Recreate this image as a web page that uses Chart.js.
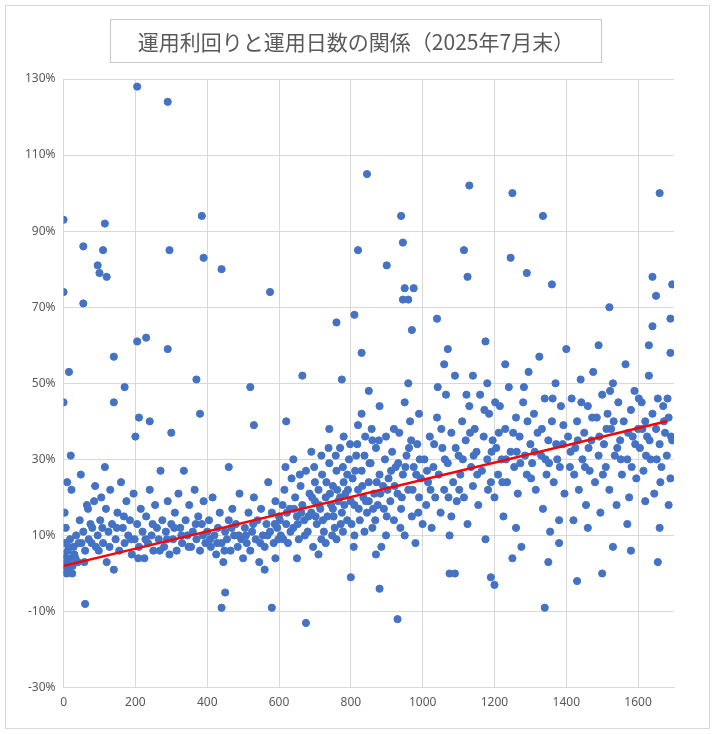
<!DOCTYPE html>
<html><head><meta charset="utf-8">
<script src="https://cdn.jsdelivr.net/npm/chart.js@4/dist/chart.umd.min.js"></script>
<style>
body{margin:0;background:#fff;font-family:"Noto Sans CJK JP",sans-serif}
#wrap{position:absolute;left:0;top:0;width:716px;height:734px}
#frame{position:absolute;left:5px;top:5px;width:703px;height:722px;border:1px solid #d9d9d9}
#title{position:absolute;left:110px;top:19px;width:490px;height:42px;border:1px solid #c8c8c8;font-size:21px;color:#595959;text-align:center;line-height:42px}
canvas{position:absolute;left:0;top:0}
</style></head><body>
<div id="wrap"><div id="frame"></div>
<canvas id="c" width="716" height="734"></canvas>
<div id="title">運用利回りと運用日数の関係（2025年7月末）</div></div>
<script>
const outliers=[[0,74],[0,93],[0,45],[10,24],[15,53],[20,31],[55,86],[55,71],[60,-8],[95,81],[100,79],[110,85],[115,92],[120,78],[140,57],[140,45],[170,49],[200,36],[205,128],[205,61],[210,41],[230,62],[240,40],[290,124],[295,85],[290,59],[300,37],[385,94],[390,83],[370,51],[380,42],[440,80],[440,-9],[450,-5],[460,28],[520,49],[530,39],[575,74],[580,-9],[620,40],[665,52],[675,-13],[760,66],[775,51],[800,-1],[810,68],[820,85],[830,58],[845,105],[850,48],[880,-4],[900,81],[930,-12],[940,94],[945,87],[945,72],[950,75],[960,72],[975,75],[970,64],[1040,67],[1070,59],[1075,0],[1090,0],[1115,85],[1125,78],[1130,102],[1175,61],[1190,-1],[1200,-3],[1245,83],[1250,100],[1290,79],[1335,94],[1340,-9],[1360,76],[1430,-2],[1500,0],[1520,70],[1580,6],[1640,78],[1650,73],[1655,3],[1660,100],[1695,76],[1690,67],[1690,58],[1685,18],[1640,65]];
const cloud=[[2,5],[4,8],[5,2],[6,12],[8,0],[10,3],[12,6],[15,1],[18,9],[20,4],[25,2],[28,7],[30,5],[35,10],[40,3],[45,14],[50,8],[55,11],[60,6],[65,18],[70,9],[75,13],[80,12],[85,19],[90,7],[95,10],[3,16],[22,22],[48,26],[68,17],[88,23],
[102,14],[105,20],[110,8],[115,28],[118,17],[120,3],[125,11],[130,22],[135,13],[140,1],[145,9],[150,16],[155,6],[160,24],[165,12],[170,8],[175,19],[180,10],[185,14],[190,5],[195,21],[198,9],
[205,13],[210,7],[215,17],[220,11],[225,4],[230,15],[235,8],[240,22],[245,10],[250,6],[255,18],[260,12],[265,9],[270,27],[275,14],[280,7],[285,11],[290,19],[295,5],[300,13],
[305,9],[310,16],[315,6],[320,21],[325,12],[330,8],[335,27],[340,14],[345,10],[350,18],[355,7],[360,11],[365,22],[370,9],[375,15],[380,6],[385,13],[390,19],[395,8],[400,11],
[405,14],[410,7],[415,20],[420,10],[425,5],[430,12],[435,16],[440,8],[445,3],[450,11],[455,9],[460,14],[465,6],[470,17],[475,10],[480,13],[485,7],[490,21],[495,9],[500,4],
[505,12],[510,8],[515,16],[520,6],[525,11],[530,20],[535,9],[540,14],[545,3],[550,17],[555,10],[560,7],[565,13],[570,24],[575,11],[580,16],[585,8],[590,19],[595,12],[600,15],[560,1],[590,4],
[605,10],[610,18],[615,22],[620,13],[625,8],[630,17],[635,25],[640,12],[645,20],[650,15],[655,9],[660,23],[665,18],[670,14],[675,27],[680,11],[685,21],[690,16],[695,7],[700,19],[640,30],[690,32],[650,4],[700,24],
[705,13],[710,22],[715,17],[720,26],[725,11],[730,20],[735,15],[740,29],[745,18],[750,23],[755,12],[760,27],[765,19],[770,33],[775,16],[780,24],[785,21],[790,14],[795,30],[800,19],[710,5],[730,8],[760,9],[780,36],[740,38],[790,26],[770,20],[750,17],
[805,25],[810,18],[815,31],[820,22],[825,14],[830,27],[835,20],[840,36],[845,16],[850,24],[855,29],[860,12],[865,21],[870,33],[875,18],[880,26],[885,7],[890,23],[895,30],[900,15],[820,39],[860,35],[870,5],[810,10],[830,42],[880,44],[850,19],
[905,25],[910,19],[915,32],[920,14],[925,28],[930,21],[935,37],[940,17],[945,26],[950,10],[955,31],[960,22],[965,40],[970,15],[975,28],[980,8],[985,34],[990,20],[995,25],[1000,13],[950,45],[990,42],[960,50],[920,38],
[1005,30],[1010,18],[1015,24],[1020,36],[1025,12],[1030,28],[1035,20],[1040,41],[1045,26],[1050,16],[1055,33],[1060,22],[1065,47],[1070,29],[1075,10],[1080,37],[1085,24],[1090,52],[1095,19],[1100,31],[1060,55],[1080,15],
[1105,26],[1110,40],[1115,20],[1120,35],[1125,13],[1130,44],[1135,28],[1140,23],[1145,38],[1150,32],[1155,18],[1160,47],[1165,27],[1170,36],[1175,9],[1180,30],[1185,42],[1190,24],[1195,35],[1200,20],[1140,52],[1180,50],
[1205,33],[1210,26],[1215,44],[1220,30],[1225,15],[1230,38],[1235,24],[1240,49],[1245,32],[1250,4],[1255,28],[1260,41],[1265,21],[1270,36],[1275,7],[1280,45],[1285,31],[1290,26],[1295,53],[1300,34],[1260,12],[1230,55],
[1305,29],[1310,42],[1315,22],[1320,37],[1325,57],[1330,31],[1335,17],[1340,46],[1345,26],[1350,35],[1355,11],[1360,40],[1365,24],[1370,50],[1375,30],[1380,14],[1385,44],[1390,34],[1395,21],[1400,59],[1350,3],[1380,8],
[1405,36],[1410,28],[1415,46],[1420,14],[1425,33],[1430,40],[1435,22],[1440,51],[1445,30],[1450,37],[1455,18],[1460,44],[1465,27],[1470,35],[1475,53],[1480,24],[1485,41],[1490,31],[1495,16],[1500,47],[1460,12],[1490,60],
[1505,34],[1510,28],[1515,42],[1520,22],[1525,38],[1530,50],[1535,31],[1540,18],[1545,45],[1550,35],[1555,26],[1560,40],[1565,55],[1570,30],[1575,20],[1580,43],[1585,36],[1590,48],[1595,25],[1600,38],[1570,13],[1530,7],
[1605,33],[1610,45],[1615,27],[1620,40],[1625,36],[1630,52],[1635,30],[1640,42],[1645,21],[1650,38],[1655,46],[1660,34],[1665,28],[1670,44],[1675,37],[1680,31],[1685,41],[1690,25],[1695,35],[1630,60],[1660,12],[1620,19]];
const cloud2=[[1,1],[7,4],[14,7],[24,0],[33,4],[42,8],[58,3],[78,8],[98,6],[108,12],[128,7],[148,12],[168,15],[188,9],[208,4],[228,9],[248,13],[268,6],[288,9],[308,12],[328,10],[348,7],[368,13],[388,10],[408,9],[428,8],[448,6],[468,12],[488,10],[508,10],[528,13],[548,8],[568,10],[588,13],[598,9],
[602,14],[612,9],[622,16],[632,11],[642,17],[652,13],[662,16],[672,10],[682,15],[692,20],[702,15],[712,18],[722,14],[732,24],[742,21],[752,15],[762,22],[772,13],[782,18],[792,22],[802,13],[812,27],[822,17],[832,23],[842,19],[852,29],[862,17],[872,24],[882,21],[892,17],[902,22],[912,27],[922,23],[932,29],[942,20],[952,28],[962,33],[972,22],[982,26],[992,30],
[618,28],[658,26],[698,28],[718,31],[738,33],[758,31],[778,28],[798,34],[818,34],[838,31],[858,38],[878,35],[898,36],[718,9],[748,10],[778,11],[808,7],[838,11],[868,14],[898,10],[938,12],[968,35],[988,16],
[1012,27],[1032,34],[1052,38],[1072,20],[1092,33],[1112,30],[1132,37],[1152,26],[1172,43],[1192,32],[1212,37],[1232,30],[1252,37],[1272,29],[1292,40],[1312,32],[1332,38],[1352,29],[1372,34],[1392,39],[1412,32],[1432,35],[1452,28],[1472,41],[1492,36],[1512,38],[1532,40],[1552,30],[1572,37],[1592,34],[1612,38],[1632,35],[1652,30],[1672,40],[1692,36],
[1022,22],[1062,30],[1102,22],[1142,31],[1182,22],[1222,24],[1262,32],[1302,25],[1342,30],[1382,28],[1422,26],[1462,33],[1502,26],[1542,33],[1582,28],[1622,31],[1662,24],[1042,49],[1122,47],[1202,45],[1282,49],[1362,46],[1442,45],[1522,48],[1602,46],[1682,46]];
const trendX=[0,1680], trendY=[2,40];
const yTicks=[-30,-10,10,30,50,70,90,110,130];
const xTicks=[0,200,400,600,800,1000,1200,1400,1600];
const pts=outliers.concat(cloud,cloud2).map(p=>({x:p[0],y:p[1]}));
const grid='#d9d9d9', tc='#595959', f={family:'"Noto Sans","DejaVu Sans",sans-serif',size:12};
new Chart(document.getElementById('c'),{
 data:{datasets:[
  {type:'line',data:trendX.map((x,i)=>({x,y:trendY[i]})),borderColor:'#ff0000',borderWidth:2.5,pointRadius:0,order:0},
  {type:'scatter',data:pts,backgroundColor:'#4472C4',borderColor:'#4472C4',pointRadius:3.6,order:1}]},
 options:{responsive:false,animation:false,
  layout:{padding:{left:17,top:79,right:42,bottom:16}},
  plugins:{legend:{display:false},tooltip:{enabled:false}},
  scales:{
   x:{type:'linear',min:0,max:1700,border:{color:grid},grid:{color:grid,drawTicks:false},
     afterBuildTicks:s=>{s.ticks=xTicks.map(v=>({value:v}))},ticks:{color:tc,font:f,padding:8,callback:v=>String(v)}},
   y:{type:'linear',min:-30,max:130,border:{color:grid},grid:{color:grid,drawTicks:false},
     afterBuildTicks:s=>{s.ticks=yTicks.map(v=>({value:v}))},ticks:{color:tc,font:f,padding:8,callback:v=>v+'%'}}}}
});
</script></body></html>
